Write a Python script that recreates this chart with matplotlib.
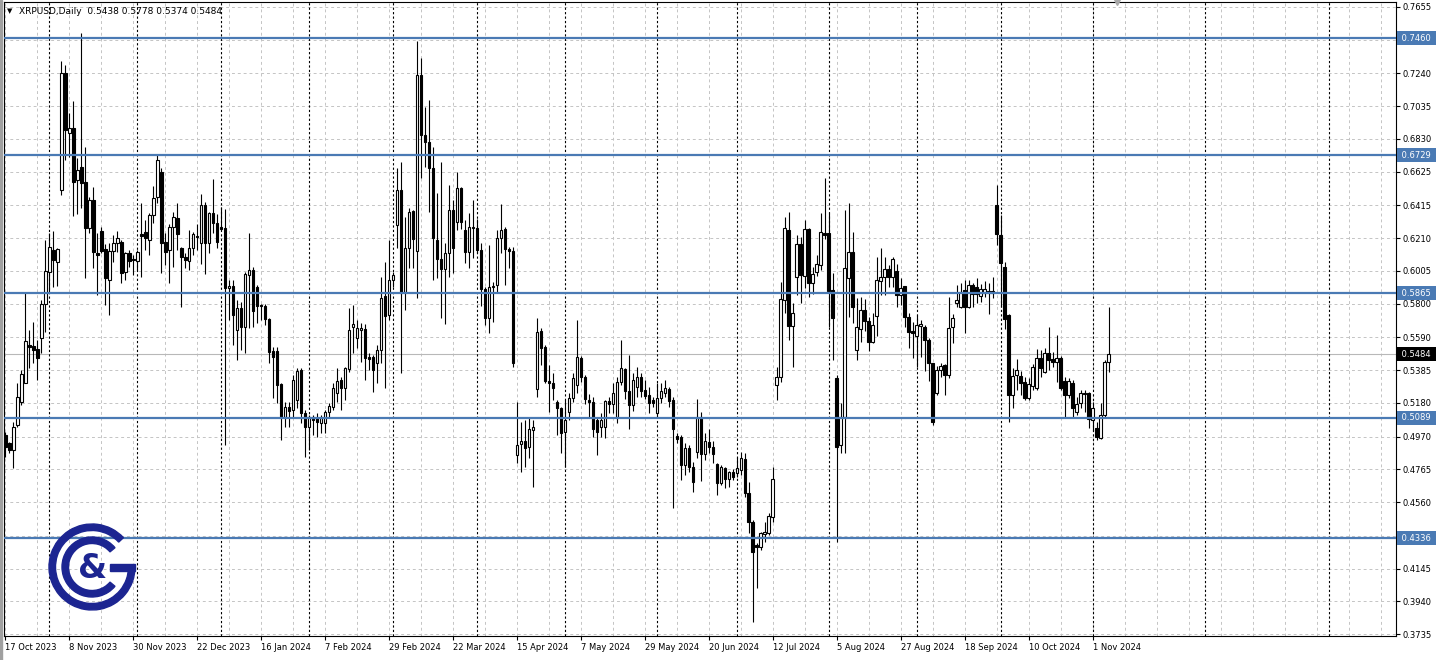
import numpy as np
import pandas as pd
import matplotlib
matplotlib.use('Agg')
import matplotlib.pyplot as plt
import matplotlib.transforms as mtransforms
from matplotlib.patches import Wedge, Rectangle

symbol = 'XRPUSD,Daily'
first_day = '2023-10-17'
holidays = ['2024-01-01']

opens = [
    .4979, .4927, .4885, .5042, .5188, .5306, .5542, .5535, .5515, .5583,
    .5798, .5996, .6135, .6063, .6510, .7240, .6865, .6896, .6573, .6656,
    .6558, .6271, .6448, .6115, .6254, .6140, .5948, .6131, .6181, .6188,
    .5996, .6115, .6077, .6067, .6235, .6246, .6198, .6354, .6465, .6625,
    .6188, .6135, .6281, .6338, .6150, .6094, .6069, .6150, .6225, .6177,
    .6417, .6177, .6365, .6302, .6277, .6271, .5896, .5913, .5635, .5771,
    .5652, .5979, .6010, .5906, .5792, .5788, .5704, .5504, .5504, .5296,
    .5090, .5152, .5135, .5198, .5385, .5115, .5031, .5090, .5083, .5052,
    .5052, .5125, .5156, .5244, .5323, .5275, .5390, .5652, .5583, .5635,
    .5640, .5465, .5469, .5431, .5510, .5848, .5729, .5948, .6292, .6510,
    .5875, .6146, .6379, .6131, .7229, .6854, .6813, .6646, .6198, .6077,
    .6015, .6115, .6385, .6313, .6521, .6260, .6125, .6271, .6271, .6135,
    .5890, .5708, .5906, .5917, .6208, .6265, .6140, .6129, .4854, .4923,
    .4944, .4906, .5010, .5265, .5629, .5527, .5319, .5302, .5188, .5146,
    .5000, .5125, .5208, .5292, .5458, .5340, .5198, .5188, .5073, .5031,
    .5031, .5192, .5173, .5094, .5313, .5390, .5256, .5167, .5281, .5344,
    .5260, .5229, .5198, .5115, .5208, .5244, .5265, .5198, .4973, .4965,
    .4792, .4896, .4781, .4875, .5094, .4860, .4935, .4906, .4798, .4681,
    .4775, .4708, .4750, .4740, .4760, .4827, .4619, .4438, .4292, .4281,
    .4360, .4369, .4469, .5292, .5344, .5823, .6260, .5660, .5965, .6173,
    .5973, .6265, .5927, .6000, .6042, .6240, .6240, .5885, .5333, .4917,
    .5094, .5958, .6125, .5510, .5640, .5760, .5694, .5563, .5723, .5944,
    .5965, .6015, .5965, .6004, .5854, .5910, .5715, .5631, .5598, .5661,
    .5656, .5573, .5427, .5244, .5385, .5417, .5354, .5652, .5806, .5781,
    .5885, .5781, .5917, .5902, .5848, .5865, .5881, .5881, .6417, .6229,
    .6027, .5729, .5229, .5354, .5348, .5313, .5208, .5285, .5271, .5458,
    .5375, .5490, .5452, .5438, .5458, .5319, .5229, .5306, .5125, .5177,
    .5244, .5244, .5073, .5021, .4958, .5104, .5438,
]
highs = [
    .5000, .4938, .5063, .5302, .5385, .5865, .5635, .5688, .5573, .5823,
    .6198, .6240, .6256, .6150, .7319, .7292, .6990, .7069, .6708, .7490,
    .6781, .6469, .6531, .6240, .6281, .6173, .6177, .6229, .6256, .6198,
    .6125, .6135, .6104, .6135, .6431, .6323, .6369, .6535, .6729, .6646,
    .6240, .6298, .6375, .6431, .6156, .6115, .6260, .6248, .6298, .6483,
    .6438, .6375, .6577, .6360, .6402, .6390, .5948, .5948, .5823, .5813,
    .6000, .6240, .6031, .5917, .5798, .5798, .5708, .5527, .5531, .5302,
    .5188, .5188, .5354, .5396, .5396, .5135, .5104, .5104, .5115, .5104,
    .5135, .5177, .5302, .5396, .5344, .5406, .5771, .5792, .5698, .5677,
    .5673, .5490, .5479, .5542, .5969, .6063, .6198, .6000, .6646, .6688,
    .6344, .6396, .6385, .7444, .7333, .7031, .7073, .6781, .6490, .6688,
    .6181, .6542, .6448, .6625, .6531, .6323, .6369, .6448, .6327, .6181,
    .5906, .6167, .5938, .6260, .6423, .6277, .6156, .6152, .5188, .5063,
    .5073, .5083, .5073, .5708, .5646, .5542, .5417, .5365, .5198, .5156,
    .5198, .5244, .5365, .5698, .5473, .5354, .5235, .5219, .5094, .5115,
    .5198, .5219, .5302, .5344, .5573, .5396, .5479, .5365, .5406, .5365,
    .5323, .5281, .5219, .5302, .5306, .5323, .5277, .5219, .4990, .4979,
    .4927, .4917, .4813, .5202, .5125, .4990, .5015, .4944, .4802, .4792,
    .4781, .4756, .4765, .4844, .4875, .4865, .4688, .4448, .4302, .4375,
    .4438, .4490, .4781, .5406, .5938, .6344, .6375, .5802, .6229, .6219,
    .6323, .6271, .6031, .6104, .6369, .6585, .6365, .5990, .5354, .5181,
    .6385, .6427, .6250, .5833, .5844, .5827, .5719, .5744, .6094, .6146,
    .6090, .6042, .6094, .6048, .5958, .5910, .5740, .5688, .5729, .5698,
    .5667, .5583, .5431, .5410, .5431, .5423, .5844, .5735, .5917, .5927,
    .5948, .5948, .5931, .5958, .5923, .5944, .5931, .5969, .6542, .6354,
    .6063, .5735, .5396, .5452, .5381, .5340, .5333, .5423, .5515, .5510,
    .5521, .5656, .5500, .5604, .5473, .5344, .5333, .5323, .5219, .5260,
    .5260, .5250, .5188, .5063, .5177, .5448, .5778,
]
lows = [
    .4844, .4865, .4771, .5031, .5167, .5302, .5396, .5427, .5323, .5490,
    .5625, .5865, .5906, .5910, .6479, .6698, .6719, .6348, .6358, .6396,
    .5958, .6240, .6021, .5854, .6115, .5792, .5729, .6063, .6125, .5931,
    .5948, .6031, .5979, .6010, .5969, .6135, .6104, .6302, .6427, .5994,
    .6042, .5927, .6031, .6135, .5781, .6021, .6010, .6104, .6135, .6046,
    .5983, .6115, .6240, .6150, .6260, .4917, .5698, .5542, .5448, .5510,
    .5490, .5646, .5656, .5677, .5698, .5667, .5427, .5208, .5177, .4948,
    .5031, .5031, .5094, .5146, .5052, .4844, .4885, .4979, .4969, .4990,
    .4990, .5094, .5135, .5188, .5135, .5198, .5375, .5490, .5521, .5438,
    .5323, .5385, .5250, .5302, .5427, .5271, .5698, .5906, .6146, .5365,
    .5760, .6021, .6021, .5833, .6583, .6656, .6375, .5948, .5958, .5708,
    .5673, .5969, .5990, .6260, .6265, .6052, .6021, .6083, .6115, .5785,
    .5667, .5615, .5688, .5865, .6115, .5917, .6021, .5406, .4802, .4750,
    .4781, .4833, .4656, .5219, .5417, .5302, .5125, .5198, .4979, .4865,
    .4781, .5073, .5188, .5240, .5313, .5173, .5083, .4965, .4854, .4965,
    .4958, .5115, .5115, .5056, .5292, .5202, .5015, .5131, .5219, .5219,
    .5202, .5115, .5156, .5094, .5177, .5219, .5156, .4521, .4927, .4698,
    .4729, .4750, .4625, .4833, .4694, .4823, .4865, .4802, .4604, .4667,
    .4646, .4652, .4698, .4719, .4729, .4594, .4365, .3813, .4021, .4260,
    .4313, .4354, .4438, .5198, .5313, .5740, .5573, .5406, .5854, .5802,
    .5896, .5844, .5860, .5973, .6010, .6202, .5656, .5448, .4313, .4869,
    .4865, .5719, .5677, .5448, .5563, .5631, .5506, .5552, .5598, .5854,
    .5854, .5906, .5906, .5781, .5792, .5656, .5521, .5458, .5406, .5469,
    .5381, .5319, .5042, .5229, .5344, .5229, .5333, .5556, .5781, .5771,
    .5615, .5771, .5781, .5802, .5813, .5844, .5735, .5833, .6167, .5781,
    .5640, .5063, .5146, .5260, .5229, .5198, .5198, .5260, .5260, .5344,
    .5365, .5385, .5406, .5313, .5260, .5094, .5208, .5083, .5104, .5146,
    .5125, .5021, .5006, .4948, .4952, .5083, .5374,
]
closes = [
    .4906, .4885, .5031, .5219, .5360, .5569, .5531, .5510, .5458, .5798,
    .6006, .6152, .6073, .6140, .7240, .6885, .6896, .6563, .6635, .6552,
    .6271, .6448, .6121, .6104, .6129, .5958, .6131, .6181, .6208, .5994,
    .6115, .6069, .6073, .6121, .6223, .6208, .6354, .6458, .6698, .6181,
    .6121, .6277, .6344, .6233, .6094, .6073, .6150, .6233, .6215, .6417,
    .6181, .6365, .6302, .6188, .6269, .5896, .5913, .5729, .5771, .5656,
    .5983, .6010, .5756, .5785, .5785, .5702, .5500, .5465, .5292, .5090,
    .5156, .5131, .5323, .5381, .5115, .5031, .5094, .5073, .5063, .5083,
    .5125, .5160, .5271, .5317, .5271, .5396, .5635, .5673, .5646, .5646,
    .5458, .5452, .5385, .5510, .5833, .5723, .5948, .5979, .6510, .5869,
    .6146, .6375, .6202, .7229, .6854, .6813, .6646, .6208, .6077, .6015,
    .6115, .6385, .6146, .6521, .6313, .6125, .6281, .6277, .6135, .5890,
    .5713, .5906, .5910, .6208, .6260, .6140, .6131, .5427, .4917, .4944,
    .4896, .5015, .5031, .5625, .5521, .5319, .5302, .5275, .5146, .4990,
    .5073, .5208, .5333, .5465, .5340, .5202, .5188, .5015, .5000, .5073,
    .5192, .5171, .5240, .5313, .5396, .5256, .5167, .5323, .5344, .5256,
    .5223, .5181, .5181, .5208, .5256, .5271, .5194, .5015, .4956, .4792,
    .4896, .4781, .4688, .5094, .4860, .4944, .4906, .4860, .4677, .4781,
    .4708, .4750, .4715, .4771, .4833, .4619, .4438, .4250, .4281, .4365,
    .4375, .4473, .4708, .5344, .5827, .6271, .5660, .5740, .6173, .5979,
    .6265, .5927, .5985, .6046, .6250, .6229, .5881, .5708, .4906, .5094,
    .6021, .6125, .5781, .5656, .5760, .5694, .5563, .5667, .5948, .5969,
    .6015, .5965, .6077, .5854, .5896, .5715, .5625, .5619, .5667, .5673,
    .5573, .5427, .5063, .5385, .5410, .5354, .5646, .5708, .5823, .5875,
    .5781, .5917, .5860, .5860, .5890, .5890, .5869, .5865, .6235, .6056,
    .5702, .5229, .5348, .5385, .5306, .5208, .5298, .5406, .5458, .5396,
    .5490, .5448, .5438, .5458, .5271, .5229, .5319, .5146, .5173, .5240,
    .5235, .5077, .5146, .4965, .5104, .5438, .5484,
]

date_labels = [
    '17 Oct 2023', '8 Nov 2023', '30 Nov 2023', '22 Dec 2023', '16 Jan 2024',
    '7 Feb 2024', '29 Feb 2024', '22 Mar 2024', '15 Apr 2024', '7 May 2024',
    '29 May 2024', '20 Jun 2024', '12 Jul 2024', '5 Aug 2024', '27 Aug 2024',
    '18 Sep 2024', '10 Oct 2024', '1 Nov 2024',
]
price_ticks = [
    0.7655, 0.7450, 0.7240, 0.7035, 0.6830, 0.6625, 0.6415, 0.6210, 0.6005,
    0.5800, 0.5590, 0.5385, 0.5180, 0.4970, 0.4765, 0.4560, 0.4350, 0.4145,
    0.3940, 0.3735,
]
hidden_ticks = [0.7450, 0.4350]
levels = [0.7460, 0.6729, 0.5865, 0.5089, 0.4336]
bid = 0.5484

BLUE = '#4a7ab4'
NAVY = '#1c2591'
GRID = '#c4c4c4'

W, H = 1439, 660
XMAX = 347.8
n = len(closes)
idx = np.arange(n)
o, h, l, c = (np.array(a) for a in (opens, highs, lows, closes))
bull = c >= o

fig = plt.figure(figsize=(W / 100, H / 100), dpi=100)
ax = fig.add_axes([3.5 / W, 24 / H, 1392.5 / W, 634 / H])
ax.set_xlim(-0.4, XMAX)
ax.set_ylim(0.3724, 0.7685)

# grid
for p in price_ticks:
    ax.axhline(p, color=GRID, lw=0.7, ls=(0, (3, 3)), zorder=1)
for i in range(0, int(XMAX) + 1, 8):
    ax.axvline(i, color=GRID, lw=0.7, ls=(0, (3, 3)), zorder=1)

# monthly period separators; past the last bar the terminal counts
# plain calendar days
dates = list(pd.bdate_range(first_day, periods=n, freq='C', holidays=holidays))
future = pd.date_range(dates[-1], periods=int(XMAX) - n + 2, freq='D')[1:]
dates += list(future)
for i in range(1, len(dates)):
    if dates[i].month != dates[i - 1].month:
        ax.axvline(i, color='black', lw=0.8, ls=(0, (2, 2)), zorder=2)

ax.axhline(bid, color='#b8b8b8', lw=0.8, zorder=1.5)

# candles
ax.vlines(idx, l, h, color='black', lw=0.8, zorder=3)
body = np.maximum(np.abs(c - o), 0.0003)
ax.bar(idx, body, bottom=np.minimum(o, c), width=0.72,
       color=np.where(bull, 'white', 'black'), edgecolor='black',
       linewidth=0.8, zorder=4)

for lv in levels:
    ax.axhline(lv, color=BLUE, lw=1.6, zorder=5)

# axes
ax.set_xticks(idx[::16][:len(date_labels)])
ax.set_xticklabels(date_labels, ha='left')
ax.yaxis.tick_right()
ax.set_yticks(price_ticks)
ax.set_yticklabels(['' if p in hidden_ticks else '%.4f' % p for p in price_ticks])
ax.tick_params(axis='x', length=3, labelsize=6, pad=2, direction='out')
ax.tick_params(axis='y', length=3, labelsize=6, pad=2, direction='out')
for sp in ax.spines.values():
    sp.set_linewidth(0.8)
    sp.set_color('black')

# price labels on the right
trans = mtransforms.blended_transform_factory(ax.transAxes, ax.transData)
trans = mtransforms.offset_copy(trans, fig=fig, x=3, y=0, units='dots')
for lv in levels:
    ax.text(1, lv, ' %.4f ' % lv, transform=trans, ha='left', va='center',
            fontsize=6, color='white', zorder=6, clip_on=False,
            bbox=dict(boxstyle='square,pad=0.3', fc=BLUE, ec='none'))
ax.text(1, bid, ' %.4f ' % bid, transform=trans, ha='left', va='center',
        fontsize=6, color='white', zorder=6, clip_on=False,
        bbox=dict(boxstyle='square,pad=0.3', fc='black', ec='none'))

# header
fig.text(7 / W, 1 - 11 / H, '\u25bc', fontsize=5, va='center', ha='left')
fig.text(19 / W, 1 - 11 / H, '%s  %.4f %.4f %.4f %.4f'
         % (symbol, opens[-1], highs[-1], lows[-1], closes[-1]),
         fontsize=6.5, va='center', ha='left')

# chart shift marker
ax.plot([278], [0.7685], marker='v', color='#a8a8a8', ms=5,
        clip_on=False, zorder=6)

# window border
fig.add_artist(Rectangle((0, 0), 2 / W, 1, transform=fig.transFigure,
                         color='#a0a0a0'))

# logo
lax = fig.add_axes([44 / W, (H - 615) / H, 96 / W, 96 / H])
lax.set_xlim(-48, 48)
lax.set_ylim(-48, 48)
lax.axis('off')
lax.add_patch(Wedge((0, 0), 43, 43, 360, width=6.5, color=NAVY))
lax.add_patch(Rectangle((18, -4), 25, 7, color=NAVY))
lax.add_patch(Wedge((0, 0), 30, 40, 320, width=6.5, color=NAVY))
lax.text(1, -1, '&', fontsize=24, fontweight='bold', color=NAVY,
         ha='center', va='center')

fig.savefig('out.png', dpi=100)
